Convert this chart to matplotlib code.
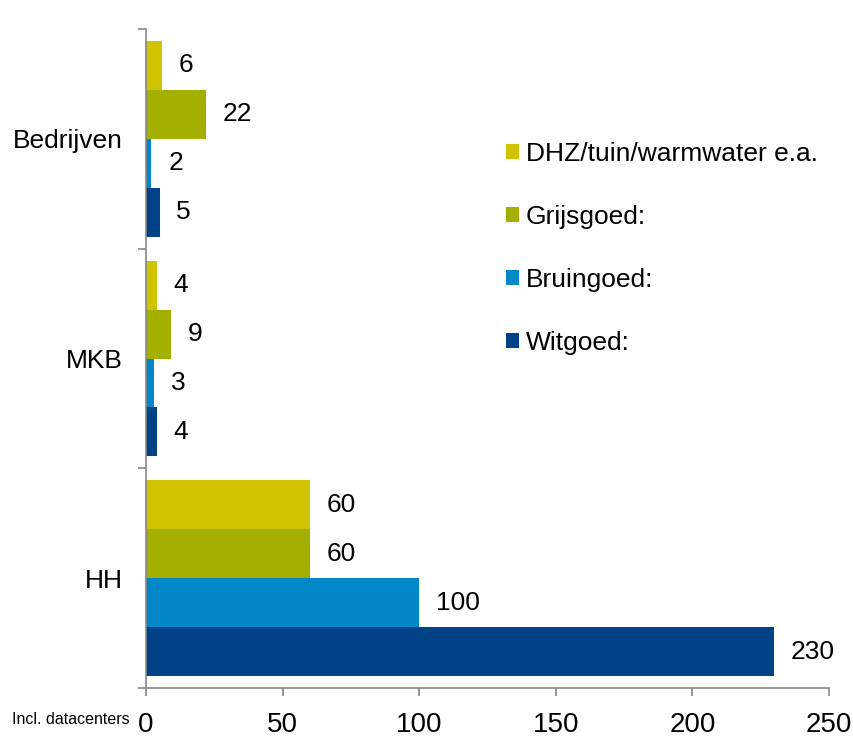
import numpy as np
import matplotlib.pyplot as plt
from matplotlib.patches import Patch

# Data
categories = ['HH', 'MKB', 'Bedrijven']
series = ['Witgoed:', 'Bruingoed:', 'Grijsgoed:', 'DHZ/tuin/warmwater e.a.']
witgoed = [230, 4, 5]
bruingoed = [100, 3, 2]
grijsgoed = [60, 9, 22]
dhz = [60, 4, 6]
x_ticks = [0, 50, 100, 150, 200, 250]

colors = ['#004287', '#0088C8', '#A3B000', '#D0C400']
values = [witgoed, bruingoed, grijsgoed, dhz]

plt.rcParams['font.family'] = ['Liberation Sans', 'DejaVu Sans']

fig = plt.figure(figsize=(8.54, 7.51), dpi=100)
ax = fig.add_axes([146 / 854, 1 - 688 / 751, 683 / 854, 659 / 751])

h = 0.892 / 4
y = np.arange(len(categories))
for i, (vals, col) in enumerate(zip(values, colors)):
    pos = y + (i - 1.5) * h
    ax.barh(pos, vals, height=h, color=col, linewidth=0)
    for p, v in zip(pos, vals):
        ax.annotate(str(v), (v, p), xytext=(12, 0), textcoords='offset points',
                    va='center', ha='left', fontsize=19)

ax.set_xlim(0, 250)
ax.set_ylim(-0.5, 2.5)
ax.set_xticks(x_ticks)
ax.set_xticklabels([str(t) for t in x_ticks], fontsize=20)
ax.set_yticks(y)
ax.set_yticklabels(categories, fontsize=19)
ax.set_yticks([-0.5, 0.5, 1.5, 2.5], minor=True)

for s in ['top', 'right']:
    ax.spines[s].set_visible(False)
for s in ['left', 'bottom']:
    ax.spines[s].set_color('#888888')
    ax.spines[s].set_linewidth(1.2)

ax.tick_params(axis='y', which='major', length=0, pad=17)
ax.tick_params(axis='y', which='minor', length=6, color='#888888', width=1.2, direction='out')
ax.tick_params(axis='x', length=6, color='#888888', width=1.2, pad=11)

fig.text(12 / 854, 1 - 720 / 751, 'Incl. datacenters', fontsize=11.5, va='center', ha='left')

handles = [Patch(facecolor=c, edgecolor='none') for c in colors[::-1]]
ax.legend(handles, series[::-1], loc='upper left', bbox_to_anchor=(506 / 854, 1 - 142 / 751),
          bbox_transform=fig.transFigure, frameon=False, fontsize=19,
          handlelength=0.5, handleheight=0.5, handletextpad=0.25, labelspacing=1.48,
          borderpad=0, borderaxespad=0)

fig.savefig('out.png', dpi=100)
